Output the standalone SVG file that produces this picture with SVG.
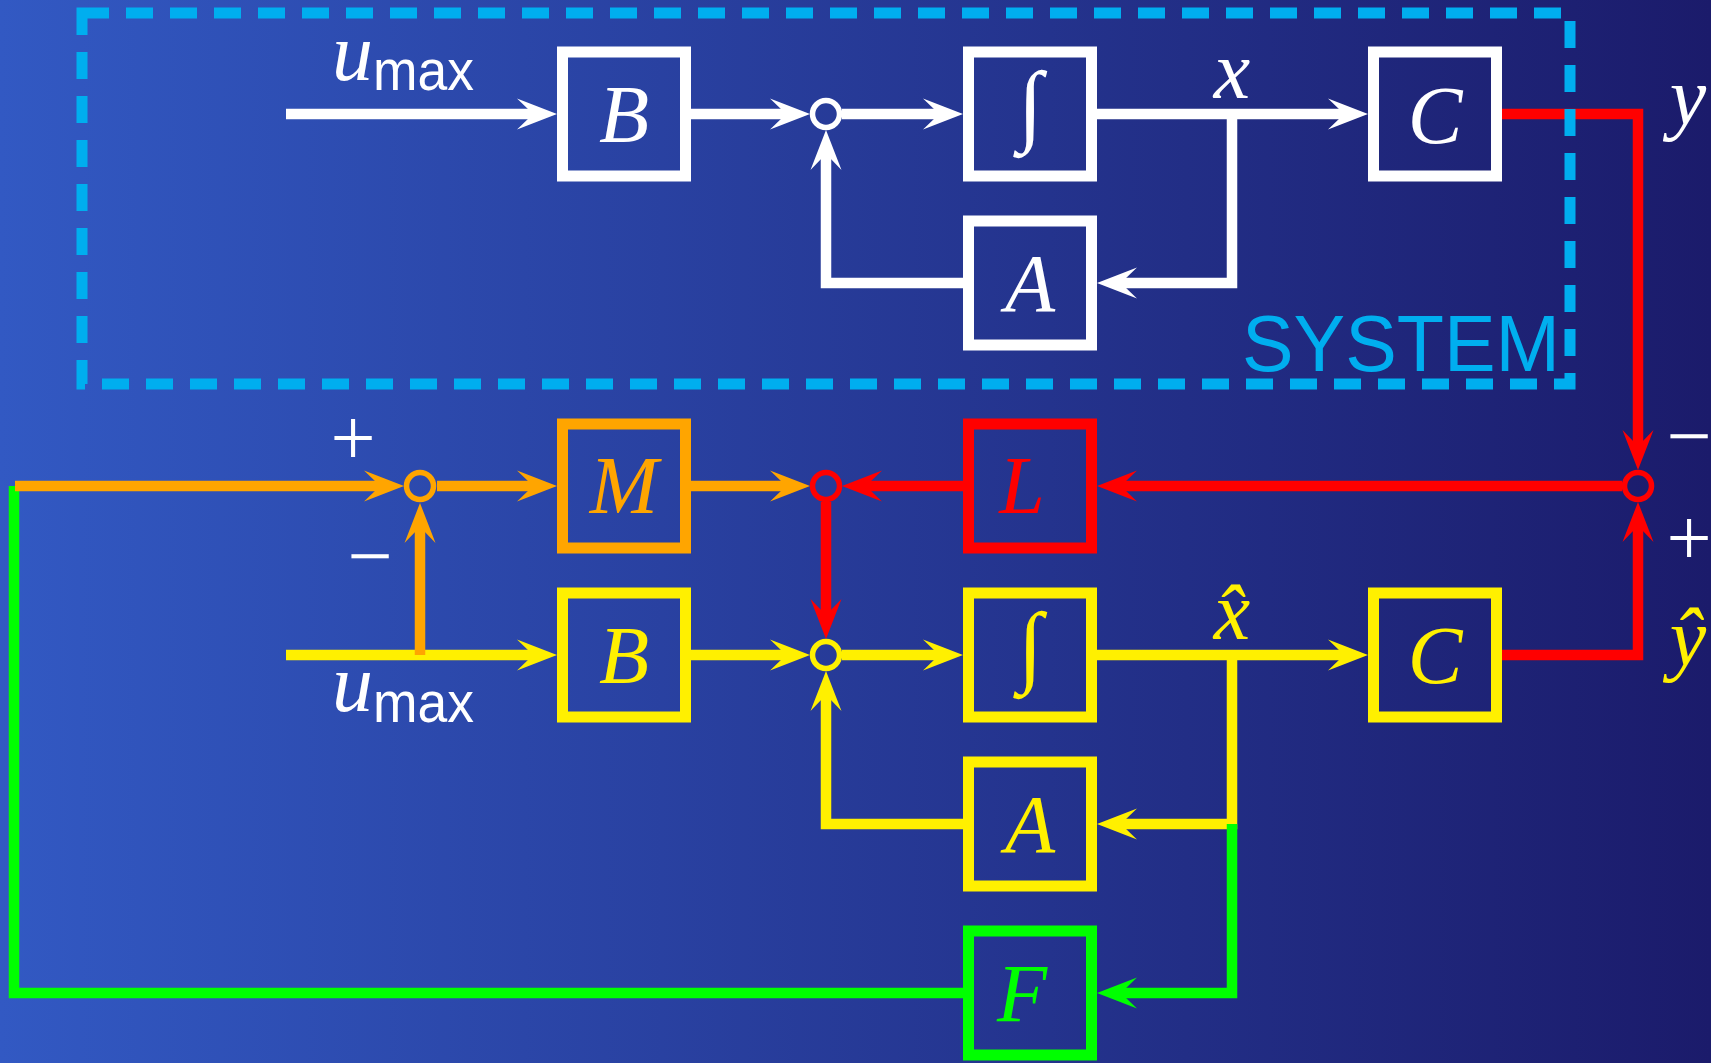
<svg xmlns="http://www.w3.org/2000/svg" width="1711" height="1063" viewBox="0 0 1711 1063">
<defs>
<linearGradient id="bg" x1="0" y1="0" x2="1" y2="0">
<stop offset="0" stop-color="#3259C3"/>
<stop offset="1" stop-color="#1B1B6B"/>
</linearGradient>
<marker id="aw" markerUnits="userSpaceOnUse" orient="auto" refX="0" refY="0" markerWidth="80" markerHeight="80" overflow="visible"><path d="M20,0 L-20,-15.5 Q-9,-5 -4,0 Q-9,5 -20,15.5 Z" fill="#FFFFFF"/></marker>
<marker id="ar" markerUnits="userSpaceOnUse" orient="auto" refX="0" refY="0" markerWidth="80" markerHeight="80" overflow="visible"><path d="M20,0 L-20,-15.5 Q-9,-5 -4,0 Q-9,5 -20,15.5 Z" fill="#FF0000"/></marker>
<marker id="ao" markerUnits="userSpaceOnUse" orient="auto" refX="0" refY="0" markerWidth="80" markerHeight="80" overflow="visible"><path d="M20,0 L-20,-15.5 Q-9,-5 -4,0 Q-9,5 -20,15.5 Z" fill="#FFA500"/></marker>
<marker id="ay" markerUnits="userSpaceOnUse" orient="auto" refX="0" refY="0" markerWidth="80" markerHeight="80" overflow="visible"><path d="M20,0 L-20,-15.5 Q-9,-5 -4,0 Q-9,5 -20,15.5 Z" fill="#FFF000"/></marker>
<marker id="ag" markerUnits="userSpaceOnUse" orient="auto" refX="0" refY="0" markerWidth="80" markerHeight="80" overflow="visible"><path d="M20,0 L-20,-15.5 Q-9,-5 -4,0 Q-9,5 -20,15.5 Z" fill="#00FF00"/></marker>
</defs>
<style>
.box{fill:none;stroke-width:11}
.sum{fill:none;stroke-width:5.5}
.ln{fill:none;stroke-width:10.5;stroke-linejoin:miter;stroke-linecap:butt}
.w{stroke:#FFFFFF}.r{stroke:#FF0000}.o{stroke:#FFA500}.y{stroke:#FFF000}.g{stroke:#00FF00}
.m{font-family:"Liberation Serif",serif;font-style:italic;font-size:82px;text-anchor:middle}
.int{font-family:"Liberation Serif",serif;font-size:90px;text-anchor:middle}
.tw{fill:#FFFFFF}.tr{fill:#FF0000}.to{fill:#FFA500}.ty{fill:#FFF000}.tg{fill:#00FF00}
.sg{font-family:"Liberation Serif",serif;font-size:80px;fill:#FFFFFF;text-anchor:middle}
.ui{font-family:"Liberation Serif",serif;font-style:italic;font-size:82px;fill:#FFFFFF}
.mx{font-family:"Liberation Sans",Arial,sans-serif;font-size:58px;fill:#FFFFFF}
</style>
<rect x="0" y="0" width="1711" height="1063" fill="url(#bg)"/>

<g id="connectors">
<path class="ln w" d="M286,114 H537" marker-end="url(#aw)"/>
<path class="ln w" d="M691,114 H790" marker-end="url(#aw)"/>
<path class="ln w" d="M842,114 H943" marker-end="url(#aw)"/>
<path class="ln w" d="M1097,114 H1348" marker-end="url(#aw)"/>
<path class="ln w" d="M1232,114 V283 H1117" marker-end="url(#aw)"/>
<path class="ln w" d="M963,283 H826 V150" marker-end="url(#aw)"/>
<path class="ln r" d="M1502,114 H1638 V450" marker-end="url(#ar)"/>
<path class="ln r" d="M1622,486 H1117" marker-end="url(#ar)"/>
<path class="ln r" d="M963,486 H862" marker-end="url(#ar)"/>
<path class="ln r" d="M826,502 V619" marker-end="url(#ar)"/>
<path class="ln r" d="M1502,655 H1638 V522" marker-end="url(#ar)"/>
<path class="ln y" d="M286,655 H537" marker-end="url(#ay)"/>
<path class="ln y" d="M691,655 H790" marker-end="url(#ay)"/>
<path class="ln y" d="M842,655 H943" marker-end="url(#ay)"/>
<path class="ln y" d="M1097,655 H1348" marker-end="url(#ay)"/>
<path class="ln y" d="M1232,655 V824 H1117" marker-end="url(#ay)"/>
<path class="ln y" d="M963,824 H826 V691" marker-end="url(#ay)"/>
<path class="ln g" d="M1232,824 V993 H1117" marker-end="url(#ag)"/>
<path class="ln g" d="M963,993 H14 V486"/>
<path class="ln o" d="M15,486 H384" marker-end="url(#ao)"/>
<path class="ln o" d="M437,486 H537" marker-end="url(#ao)"/>
<path class="ln o" d="M691,486 H790" marker-end="url(#ao)"/>
<path class="ln o" d="M420,655 V523" marker-end="url(#ao)"/>
</g>

<g id="system-frame">
<rect x="82" y="13" width="1488" height="371" fill="none" stroke="#00AEEF" stroke-width="11" stroke-dasharray="27 17"/>
<text x="1242" y="371" font-family="'Liberation Sans',Arial,sans-serif" font-size="80" fill="#00AEEF" textLength="318" lengthAdjust="spacingAndGlyphs">SYSTEM</text>
</g>

<g id="sum1"><circle class="sum w" cx="826" cy="114" r="13.5"/></g>
<g id="sum2"><circle class="sum r" cx="826" cy="486" r="13.5"/></g>
<g id="sum3"><circle class="sum y" cx="826" cy="655" r="13.5"/></g>
<g id="sum4"><circle class="sum o" cx="420" cy="486" r="13.5"/></g>
<g id="sum5"><circle class="sum r" cx="1638" cy="486" r="13.5"/></g>

<g id="B-sys"><rect class="box w" x="562.5" y="52" width="123" height="124"/><text class="m tw" x="624" y="142">B</text></g>
<g id="int-sys"><rect class="box w" x="968.5" y="52" width="123" height="124"/><text class="int tw" x="1030" y="134">∫</text></g>
<g id="C-sys"><rect class="box w" x="1373.5" y="52" width="123" height="124"/><text class="m tw" x="1435" y="143">C</text></g>
<g id="A-sys"><rect class="box w" x="968.5" y="221" width="123" height="124"/><text class="m tw" x="1030" y="311">A</text></g>

<g id="M"><rect class="box o" x="562.5" y="424" width="123" height="124"/><text class="m to" x="624" y="513">M</text></g>
<g id="L"><rect class="box r" x="968.5" y="424" width="123" height="124"/><text class="m tr" x="1022" y="513">L</text></g>
<g id="B-obs"><rect class="box y" x="562.5" y="593" width="123" height="124"/><text class="m ty" x="624" y="683">B</text></g>
<g id="int-obs"><rect class="box y" x="968.5" y="593" width="123" height="124"/><text class="int ty" x="1030" y="675">∫</text></g>
<g id="C-obs"><rect class="box y" x="1373.5" y="593" width="123" height="124"/><text class="m ty" x="1435" y="683">C</text></g>
<g id="A-obs"><rect class="box y" x="968.5" y="762" width="123" height="124"/><text class="m ty" x="1030" y="852">A</text></g>
<g id="F"><rect class="box g" x="968.5" y="931" width="123" height="124"/><text class="m tg" x="1022" y="1021">F</text></g>

<g id="labels">
<text class="ui" x="332" y="80">u</text><text class="mx" x="373" y="90" textLength="101" lengthAdjust="spacingAndGlyphs">max</text>
<text class="ui" x="332" y="711">u</text><text class="mx" x="373" y="722" textLength="101" lengthAdjust="spacingAndGlyphs">max</text>
<text class="m tw" x="1232" y="98">x</text>
<text class="m tw" x="1688" y="124">y</text>
<text class="m ty" x="1232" y="639">x&#x302;</text>
<text class="m ty" x="1688" y="665">y&#x302;</text>
<text class="sg" x="353" y="465">+</text>
<text class="sg" x="370" y="583">−</text>
<text class="sg" x="1689" y="463">−</text>
<text class="sg" x="1689" y="565">+</text>
</g>
</svg>
